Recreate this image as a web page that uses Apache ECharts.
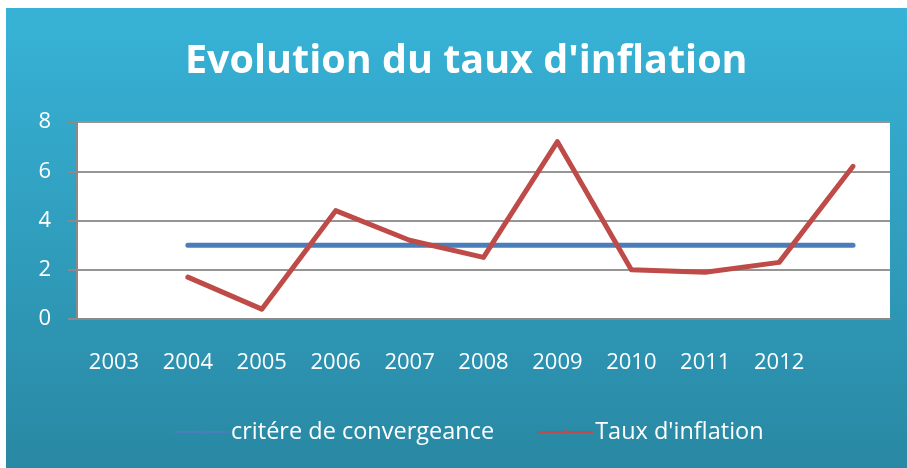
<!DOCTYPE html>
<html>
<head>
<meta charset="utf-8">
<script src="https://cdn.jsdelivr.net/npm/echarts@6/dist/echarts.min.js"></script>
<style>
  html, body { margin: 0; padding: 0; background: #ffffff; }
  #chart { position: absolute; left: 6px; top: 8px; width: 901px; height: 460px; }
</style>
</head>
<body>
<div id="chart"></div>
<script>
// categories (last slot has no label in the original)
const years = ['2003', '2004', '2005', '2006', '2007', '2008', '2009', '2010', '2011', '2012', ''];
// critère de convergence: 3 %
const critere = [null, 3, 3, 3, 3, 3, 3, 3, 3, 3, 3];
// taux d'inflation
const inflation = [null, 1.7, 0.4, 4.4, 3.2, 2.5, 7.2, 2.0, 1.9, 2.3, 6.2];
const yTicks = [0, 2, 4, 6, 8];

const chart = echarts.init(document.getElementById('chart'));

const font = '"Open Sans", "Noto Sans", sans-serif';

chart.setOption({
  backgroundColor: {
    type: 'linear', x: 0, y: 0, x2: 0, y2: 1,
    colorStops: [
      { offset: 0, color: '#37b3d7' },
      { offset: 1, color: '#2988a3' }
    ]
  },
  title: {
    text: "Evolution du taux d'inflation",
    left: 179,
    top: 34,
    padding: 0,
    textStyle: { color: '#ffffff', fontFamily: font, fontWeight: 'bold', fontSize: 39.5 }
  },
  legend: {
    top: 412,
    left: 168,
    padding: 0,
    itemWidth: 54,
    itemHeight: 5,
    itemGap: 44,
    textStyle: { color: '#ffffff', fontFamily: font, fontSize: 23.5, padding: [0, 0, 0, -3] },
    data: ['critére de convergeance', "Taux d'inflation"]
  },
  grid: { left: 71, right: 17, top: 114, bottom: 149 },
  xAxis: {
    type: 'category',
    data: years,
    boundaryGap: true,
    axisLine: { lineStyle: { color: '#8a8a8a', width: 2 } },
    axisTick: { length: 7, lineStyle: { color: '#8a8a8a', width: 2 } },
    axisLabel: { color: '#ffffff', fontFamily: font, fontSize: 22, margin: 33 }
  },
  yAxis: {
    type: 'value',
    min: yTicks[0],
    max: yTicks[yTicks.length - 1],
    interval: 2,
    axisLine: { show: true, lineStyle: { color: '#8a8a8a', width: 2 } },
    axisTick: { show: true, length: 9, lineStyle: { color: '#8a8a8a', width: 2 } },
    axisLabel: { color: '#ffffff', fontFamily: font, fontSize: 22, margin: 26 },
    splitLine: { lineStyle: { color: '#959595', width: 2 } }
  },
  series: [
    {
      name: 'critére de convergeance',
      type: 'line',
      data: critere,
      symbol: 'none',
      lineStyle: { color: '#4a7ebb', width: 5, cap: 'round' },
      itemStyle: { color: '#4a7ebb' }
    },
    {
      name: "Taux d'inflation",
      type: 'line',
      data: inflation,
      symbol: 'none',
      lineStyle: { color: '#be4b48', width: 5, cap: 'round', join: 'round' },
      itemStyle: { color: '#be4b48' }
    }
  ],
  animation: false
});

// white plot area behind the series
chart.setOption({
  grid: { show: true, backgroundColor: '#ffffff', borderWidth: 0 }
});
</script>
</body>
</html>
